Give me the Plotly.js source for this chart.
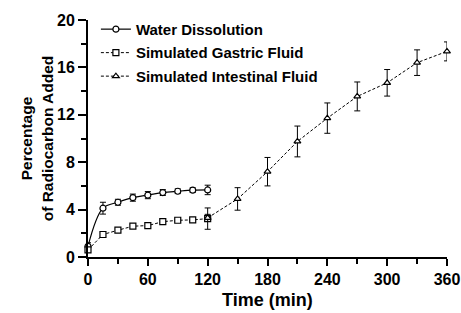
<!DOCTYPE html>
<html>
<head>
<meta charset="utf-8">
<script src="https://cdn.plot.ly/plotly-3.0.1.min.js"></script>
<style>
html,body{margin:0;padding:0;background:#fff;}
#chart{width:461px;height:313px;}
</style>
</head>
<body>
<div id="chart"></div>
<script>
// Data
var waterTime = [0, 15, 30, 45, 60, 75, 90, 105, 120];
var waterValue = [0.9, 4.12, 4.62, 5.01, 5.22, 5.44, 5.55, 5.64, 5.66];
var waterError = [0.3, 0.5, 0.25, 0.3, 0.3, 0.25, 0.2, 0.2, 0.4];

var gastricTime = [0, 15, 30, 45, 60, 75, 90, 105, 120];
var gastricValue = [0.6, 1.9, 2.26, 2.6, 2.65, 2.98, 3.1, 3.13, 3.24];
var gastricError = [0.2, 0.15, 0.1, 0.15, 0.1, 0.1, 0.1, 0.1, 0.9];

var intestinalTime = [120, 150, 180, 210, 240, 270, 300, 330, 360];
var intestinalValue = [3.3, 4.9, 7.2, 9.75, 11.72, 13.55, 14.7, 16.4, 17.35];
var intestinalError = [0.3, 0.95, 1.2, 1.3, 1.28, 1.22, 1.12, 1.08, 0.8];

var seriesNames = ['Water Dissolution', 'Simulated Gastric Fluid', 'Simulated Intestinal Fluid'];
var xTickValues = [0, 60, 120, 180, 240, 300, 360];
var yTickValues = [0, 4, 8, 12, 16, 20];
var xAxisTitle = 'Time (min)';
var yAxisTitle = 'Percentage<br>of Radiocarbon Added';

var FONT = 'Arial, "Liberation Sans", sans-serif';

function errBar(arr) {
  return {type: 'data', array: arr, visible: true, color: '#000', thickness: 1, width: 3};
}

var traces = [
  {
    x: waterTime, y: waterValue, name: seriesNames[0],
    type: 'scatter', mode: 'lines+markers', cliponaxis: false,
    line: {color: '#000', width: 1.2, shape: 'spline', smoothing: 1},
    marker: {symbol: 'circle', size: 6, color: '#fff', line: {color: '#000', width: 1.2}},
    error_y: errBar(waterError),
    legendgroup: 'a'
  },
  {
    x: gastricTime, y: gastricValue, name: seriesNames[1],
    type: 'scatter', mode: 'lines+markers', cliponaxis: false,
    line: {color: '#000', width: 1, dash: '3px,2px'},
    marker: {symbol: 'square', size: 6, color: '#fff', line: {color: '#000', width: 1.2}},
    error_y: errBar(gastricError),
    legendgroup: 'b'
  },
  {
    x: intestinalTime, y: intestinalValue, name: seriesNames[2],
    type: 'scatter', mode: 'lines+markers', cliponaxis: false,
    line: {color: '#000', width: 1, dash: '3px,2px'},
    marker: {symbol: 'triangle-up', size: 6, color: '#fff', line: {color: '#000', width: 1.2}},
    error_y: errBar(intestinalError),
    legendgroup: 'c'
  }
];

var layout = {
  width: 461, height: 313,
  margin: {l: 88, r: 14, t: 20, b: 56},
  paper_bgcolor: '#fff', plot_bgcolor: '#fff',
  font: {family: FONT, color: '#000', size: 15, weight: 'bold'},
  showlegend: true,
  legend: {
    x: 0.022, y: 1.03, xanchor: 'left', yanchor: 'top',
    bgcolor: 'rgba(0,0,0,0)',
    font: {family: FONT, size: 15, color: '#000', weight: 'bold'},
    traceorder: 'grouped', tracegroupgap: 1
  },
  xaxis: {
    range: [0, 360], tickvals: xTickValues, ticktext: xTickValues.map(String),
    ticks: 'outside', ticklen: 7, tickwidth: 2, tickcolor: '#000',
    showline: true, linewidth: 2, linecolor: '#000',
    showgrid: false, zeroline: false,
    minor: {dtick: 30, tick0: 0, ticks: 'outside', ticklen: 5, tickwidth: 2, tickcolor: '#000', showgrid: false},
    tickfont: {family: FONT, size: 16, color: '#000', weight: 'bold'}
  },
  yaxis: {
    range: [0, 20], tickvals: yTickValues, ticktext: yTickValues.map(String),
    ticks: 'outside', ticklen: 8, tickwidth: 2, tickcolor: '#000',
    showline: true, linewidth: 2, linecolor: '#000',
    showgrid: false, zeroline: false,
    minor: {dtick: 2, tick0: 0, ticks: 'outside', ticklen: 5, tickwidth: 2, tickcolor: '#000', showgrid: false},
    tickfont: {family: FONT, size: 16, color: '#000', weight: 'bold'},
    title: {text: yAxisTitle, font: {family: FONT, size: 15.5, color: '#000', weight: 'bold'}, standoff: 0}
  },
  annotations: [{
    text: xAxisTitle, xref: 'paper', yref: 'paper', x: 0.5, y: -0.183,
    xanchor: 'center', yanchor: 'middle', showarrow: false,
    font: {family: FONT, size: 18, color: '#000', weight: 'bold'}
  }]
};

Plotly.newPlot('chart', traces, layout, {displayModeBar: false, staticPlot: true});
</script>
</body>
</html>
